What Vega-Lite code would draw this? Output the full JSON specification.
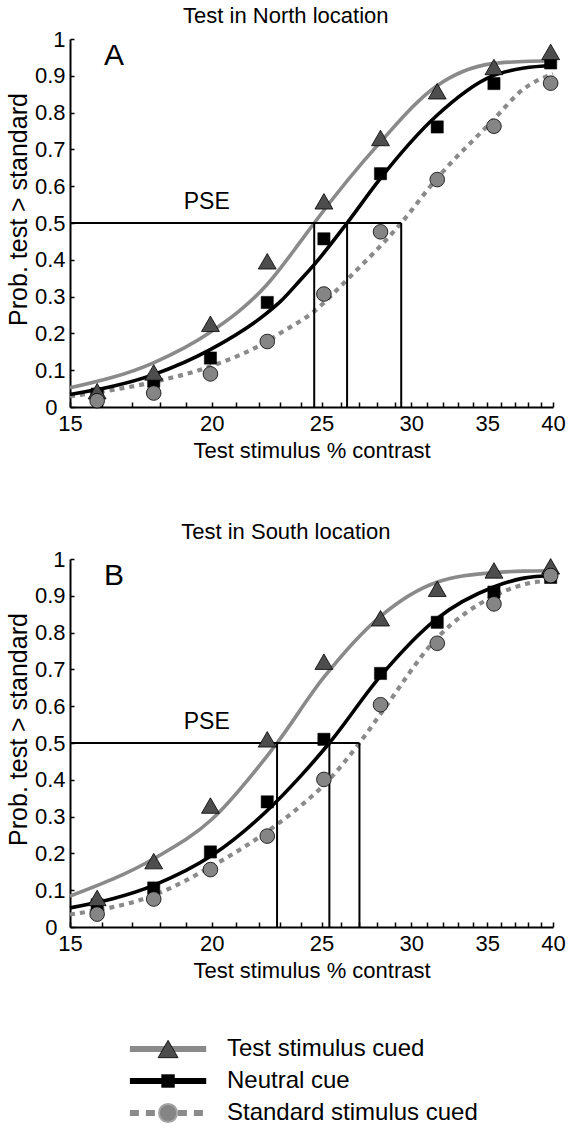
{
  "$schema": "https://vega.github.io/schema/vega-lite/v6.json",
  "background": "white",
  "padding": {"left": 6, "top": 5, "right": 0, "bottom": 0},
  "config": {
    "font": "Liberation Sans",
    "view": {"stroke": null},
    "axis": {"grid": false, "domainColor": "black", "domainWidth": 2, "tickColor": "black", "tickWidth": 1.5, "labelColor": "black", "labelFontSize": 22, "titleColor": "black", "titleFontSize": 22, "titleFontWeight": "normal", "labelFont": "Liberation Sans", "titleFont": "Liberation Sans", "labelOverlap": false},
    "axisY": {"labelOverlap": false},
    "title": {"fontSize": 22, "fontWeight": "normal", "color": "black", "font": "Liberation Sans", "anchor": "middle", "frame": "bounds"},
    "text": {"font": "Liberation Sans"}
  },
  "spacing": 60,
  "resolve": {"scale": {"x": "independent", "y": "independent"}},
  "datasets": {
    "curvesA": [
      {"series": "Test stimulus cued", "contrast": 15, "prob": 0.052},
      {"series": "Test stimulus cued", "contrast": 17.77, "prob": 0.12},
      {"series": "Test stimulus cued", "contrast": 19.94, "prob": 0.203},
      {"series": "Test stimulus cued", "contrast": 22.37, "prob": 0.332},
      {"series": "Test stimulus cued", "contrast": 23.96, "prob": 0.45},
      {"series": "Test stimulus cued", "contrast": 24.63, "prob": 0.5},
      {"series": "Test stimulus cued", "contrast": 28.12, "prob": 0.717},
      {"series": "Test stimulus cued", "contrast": 31.54, "prob": 0.871},
      {"series": "Test stimulus cued", "contrast": 35.33, "prob": 0.933},
      {"series": "Test stimulus cued", "contrast": 37.71, "prob": 0.939},
      {"series": "Test stimulus cued", "contrast": 40, "prob": 0.941},
      {"series": "Neutral cue", "contrast": 15, "prob": 0.034},
      {"series": "Neutral cue", "contrast": 17.77, "prob": 0.088},
      {"series": "Neutral cue", "contrast": 19.94, "prob": 0.156},
      {"series": "Neutral cue", "contrast": 22.37, "prob": 0.255},
      {"series": "Neutral cue", "contrast": 23.0, "prob": 0.287},
      {"series": "Neutral cue", "contrast": 23.96, "prob": 0.346},
      {"series": "Neutral cue", "contrast": 24.63, "prob": 0.387},
      {"series": "Neutral cue", "contrast": 26.33, "prob": 0.5},
      {"series": "Neutral cue", "contrast": 28.12, "prob": 0.618},
      {"series": "Neutral cue", "contrast": 31.54, "prob": 0.79},
      {"series": "Neutral cue", "contrast": 35.33, "prob": 0.899},
      {"series": "Neutral cue", "contrast": 37.71, "prob": 0.921},
      {"series": "Neutral cue", "contrast": 40, "prob": 0.928},
      {"series": "Standard stimulus cued", "contrast": 15, "prob": 0.029},
      {"series": "Standard stimulus cued", "contrast": 17.77, "prob": 0.068},
      {"series": "Standard stimulus cued", "contrast": 19.94, "prob": 0.11},
      {"series": "Standard stimulus cued", "contrast": 22.37, "prob": 0.178},
      {"series": "Standard stimulus cued", "contrast": 23.0, "prob": 0.201},
      {"series": "Standard stimulus cued", "contrast": 24.63, "prob": 0.26},
      {"series": "Standard stimulus cued", "contrast": 26.33, "prob": 0.346},
      {"series": "Standard stimulus cued", "contrast": 29.39, "prob": 0.5},
      {"series": "Standard stimulus cued", "contrast": 31.54, "prob": 0.618},
      {"series": "Standard stimulus cued", "contrast": 35.33, "prob": 0.776},
      {"series": "Standard stimulus cued", "contrast": 37.71, "prob": 0.865},
      {"series": "Standard stimulus cued", "contrast": 40, "prob": 0.905}
    ],
    "pointsA": [
      {"series": "Test stimulus cued", "contrast": 15.85, "prob": 0.043},
      {"series": "Test stimulus cued", "contrast": 17.78, "prob": 0.094},
      {"series": "Test stimulus cued", "contrast": 19.95, "prob": 0.226},
      {"series": "Test stimulus cued", "contrast": 22.39, "prob": 0.396},
      {"series": "Test stimulus cued", "contrast": 25.12, "prob": 0.559},
      {"series": "Test stimulus cued", "contrast": 28.18, "prob": 0.731},
      {"series": "Test stimulus cued", "contrast": 31.62, "prob": 0.858},
      {"series": "Test stimulus cued", "contrast": 35.48, "prob": 0.924},
      {"series": "Test stimulus cued", "contrast": 39.81, "prob": 0.965},
      {"series": "Neutral cue", "contrast": 15.85, "prob": 0.035},
      {"series": "Neutral cue", "contrast": 17.78, "prob": 0.07},
      {"series": "Neutral cue", "contrast": 19.95, "prob": 0.133},
      {"series": "Neutral cue", "contrast": 22.39, "prob": 0.284},
      {"series": "Neutral cue", "contrast": 25.12, "prob": 0.457},
      {"series": "Neutral cue", "contrast": 28.18, "prob": 0.634},
      {"series": "Neutral cue", "contrast": 31.62, "prob": 0.761},
      {"series": "Neutral cue", "contrast": 35.48, "prob": 0.879},
      {"series": "Neutral cue", "contrast": 39.81, "prob": 0.935},
      {"series": "Standard stimulus cued", "contrast": 15.85, "prob": 0.017},
      {"series": "Standard stimulus cued", "contrast": 17.78, "prob": 0.038},
      {"series": "Standard stimulus cued", "contrast": 19.95, "prob": 0.09},
      {"series": "Standard stimulus cued", "contrast": 22.39, "prob": 0.178},
      {"series": "Standard stimulus cued", "contrast": 25.12, "prob": 0.307},
      {"series": "Standard stimulus cued", "contrast": 28.18, "prob": 0.476},
      {"series": "Standard stimulus cued", "contrast": 31.62, "prob": 0.618},
      {"series": "Standard stimulus cued", "contrast": 35.48, "prob": 0.763},
      {"series": "Standard stimulus cued", "contrast": 39.81, "prob": 0.88}
    ],
    "pseA": [
      {"contrast": 15, "contrast2": 29.39, "prob": 0.5, "prob2": 0.5},
      {"contrast": 24.63, "contrast2": 24.63, "prob": 0, "prob2": 0.5},
      {"contrast": 26.33, "contrast2": 26.33, "prob": 0, "prob2": 0.5},
      {"contrast": 29.39, "contrast2": 29.39, "prob": 0, "prob2": 0.5}
    ],
    "curvesB": [
      {"series": "Test stimulus cued", "contrast": 15, "prob": 0.084},
      {"series": "Test stimulus cued", "contrast": 17.84, "prob": 0.188},
      {"series": "Test stimulus cued", "contrast": 20.0, "prob": 0.292},
      {"series": "Test stimulus cued", "contrast": 22.45, "prob": 0.47},
      {"series": "Test stimulus cued", "contrast": 22.84, "prob": 0.5},
      {"series": "Test stimulus cued", "contrast": 25.11, "prob": 0.678},
      {"series": "Test stimulus cued", "contrast": 28.2, "prob": 0.845},
      {"series": "Test stimulus cued", "contrast": 31.6, "prob": 0.937},
      {"series": "Test stimulus cued", "contrast": 35.46, "prob": 0.963},
      {"series": "Test stimulus cued", "contrast": 37.71, "prob": 0.967},
      {"series": "Test stimulus cued", "contrast": 40, "prob": 0.968},
      {"series": "Neutral cue", "contrast": 15, "prob": 0.052},
      {"series": "Neutral cue", "contrast": 17.84, "prob": 0.115},
      {"series": "Neutral cue", "contrast": 20.0, "prob": 0.194},
      {"series": "Neutral cue", "contrast": 22.45, "prob": 0.32},
      {"series": "Neutral cue", "contrast": 23.96, "prob": 0.41},
      {"series": "Neutral cue", "contrast": 25.4, "prob": 0.5},
      {"series": "Neutral cue", "contrast": 28.2, "prob": 0.683},
      {"series": "Neutral cue", "contrast": 31.6, "prob": 0.838},
      {"series": "Neutral cue", "contrast": 35.46, "prob": 0.924},
      {"series": "Neutral cue", "contrast": 37.71, "prob": 0.948},
      {"series": "Neutral cue", "contrast": 40, "prob": 0.955},
      {"series": "Standard stimulus cued", "contrast": 15, "prob": 0.034},
      {"series": "Standard stimulus cued", "contrast": 17.84, "prob": 0.088},
      {"series": "Standard stimulus cued", "contrast": 20.0, "prob": 0.165},
      {"series": "Standard stimulus cued", "contrast": 22.45, "prob": 0.262},
      {"series": "Standard stimulus cued", "contrast": 23.96, "prob": 0.329},
      {"series": "Standard stimulus cued", "contrast": 25.4, "prob": 0.401},
      {"series": "Standard stimulus cued", "contrast": 27.0, "prob": 0.5},
      {"series": "Standard stimulus cued", "contrast": 28.2, "prob": 0.58},
      {"series": "Standard stimulus cued", "contrast": 31.6, "prob": 0.785},
      {"series": "Standard stimulus cued", "contrast": 35.46, "prob": 0.899},
      {"series": "Standard stimulus cued", "contrast": 37.71, "prob": 0.931},
      {"series": "Standard stimulus cued", "contrast": 40, "prob": 0.942}
    ],
    "pointsB": [
      {"series": "Test stimulus cued", "contrast": 15.85, "prob": 0.079},
      {"series": "Test stimulus cued", "contrast": 17.78, "prob": 0.179},
      {"series": "Test stimulus cued", "contrast": 19.95, "prob": 0.33},
      {"series": "Test stimulus cued", "contrast": 22.39, "prob": 0.51},
      {"series": "Test stimulus cued", "contrast": 25.12, "prob": 0.721},
      {"series": "Test stimulus cued", "contrast": 28.18, "prob": 0.839},
      {"series": "Test stimulus cued", "contrast": 31.62, "prob": 0.919},
      {"series": "Test stimulus cued", "contrast": 35.48, "prob": 0.969},
      {"series": "Test stimulus cued", "contrast": 39.81, "prob": 0.98},
      {"series": "Neutral cue", "contrast": 15.85, "prob": 0.06},
      {"series": "Neutral cue", "contrast": 17.78, "prob": 0.106},
      {"series": "Neutral cue", "contrast": 19.95, "prob": 0.204},
      {"series": "Neutral cue", "contrast": 22.39, "prob": 0.34},
      {"series": "Neutral cue", "contrast": 25.12, "prob": 0.51},
      {"series": "Neutral cue", "contrast": 28.18, "prob": 0.689},
      {"series": "Neutral cue", "contrast": 31.62, "prob": 0.828},
      {"series": "Neutral cue", "contrast": 35.48, "prob": 0.91},
      {"series": "Neutral cue", "contrast": 39.81, "prob": 0.95},
      {"series": "Standard stimulus cued", "contrast": 15.85, "prob": 0.035},
      {"series": "Standard stimulus cued", "contrast": 17.78, "prob": 0.076},
      {"series": "Standard stimulus cued", "contrast": 19.95, "prob": 0.156},
      {"series": "Standard stimulus cued", "contrast": 22.39, "prob": 0.247},
      {"series": "Standard stimulus cued", "contrast": 25.12, "prob": 0.401},
      {"series": "Standard stimulus cued", "contrast": 28.18, "prob": 0.604},
      {"series": "Standard stimulus cued", "contrast": 31.62, "prob": 0.771},
      {"series": "Standard stimulus cued", "contrast": 35.48, "prob": 0.878},
      {"series": "Standard stimulus cued", "contrast": 39.81, "prob": 0.955}
    ],
    "pseB": [
      {"contrast": 15, "contrast2": 27.0, "prob": 0.5, "prob2": 0.5},
      {"contrast": 22.84, "contrast2": 22.84, "prob": 0, "prob2": 0.5},
      {"contrast": 25.4, "contrast2": 25.4, "prob": 0, "prob2": 0.5},
      {"contrast": 27.0, "contrast2": 27.0, "prob": 0, "prob2": 0.5}
    ],
    "legendRows": [
      {"series": "Test stimulus cued"},
      {"series": "Neutral cue"},
      {"series": "Standard stimulus cued"}
    ],
    "labelPSE": [{"label": "PSE"}],
    "labelA": [{"label": "A"}],
    "labelB": [{"label": "B"}]
  },
  "vconcat": [
    {
      "width": 483, "height": 368,
      "title": {"text": "Test in North location", "offset": 0},
      "layer": [
        {
          "data": {"name": "curvesA"},
          "transform": [{"filter": {"field": "series", "equal": "Standard stimulus cued"}}],
          "mark": {"type": "line", "interpolate": "monotone", "strokeWidth": 4.2, "color": "#8a8a8a", "strokeDash": [5, 5]},
          "encoding": {
            "x": {"field": "contrast", "type": "quantitative", "scale": {"type": "log", "domain": [15, 40], "nice": false},
                  "axis": {"title": "Test stimulus % contrast", "values": [15,16,17,18,19,20,21,22,23,24,25,26,27,28,29,30,31,32,33,34,35,36,37,38,39,40], "format": "d", "labelExpr": "datum.value % 5 === 0 ? datum.label : ''", "labelOverlap": false, "labelFlush": false, "labelBound": false, "tickSize": -5, "labelPadding": 11, "titlePadding": 6}},
            "y": {"field": "prob", "type": "quantitative", "scale": {"domain": [0, 1], "nice": false},
                  "axis": {"title": "Prob. test > standard", "titleFontSize": 25, "titleY": 170, "values": [0,0.1,0.2,0.3,0.4,0.5,0.6,0.7,0.8,0.9,1], "tickCount": 11, "format": ".1~f", "tickSize": -4, "labelPadding": {"condition": {"test": "datum.value === 0", "value": 17}, "value": 9}, "titlePadding": 3, "labelOverlap": false}}
          }
        },
        {
          "data": {"name": "curvesA"},
          "transform": [{"filter": {"field": "series", "equal": "Neutral cue"}}],
          "mark": {"type": "line", "interpolate": "monotone", "strokeWidth": 3.6, "color": "#000000"},
          "encoding": {"x": {"field": "contrast", "type": "quantitative"}, "y": {"field": "prob", "type": "quantitative"}}
        },
        {
          "data": {"name": "curvesA"},
          "transform": [{"filter": {"field": "series", "equal": "Test stimulus cued"}}],
          "mark": {"type": "line", "interpolate": "monotone", "strokeWidth": 3.6, "color": "#8a8a8a"},
          "encoding": {"x": {"field": "contrast", "type": "quantitative"}, "y": {"field": "prob", "type": "quantitative"}}
        },
        {
          "data": {"name": "pseA"},
          "mark": {"type": "rule", "strokeWidth": 2, "color": "black"},
          "encoding": {
            "x": {"field": "contrast", "type": "quantitative"}, "x2": {"field": "contrast2"},
            "y": {"field": "prob", "type": "quantitative"}, "y2": {"field": "prob2"}
          }
        },
        {
          "data": {"name": "pointsA"},
          "transform": [{"filter": {"field": "series", "equal": "Neutral cue"}}],
          "mark": {"type": "point", "shape": "square", "filled": true, "fill": "black", "stroke": "black", "strokeWidth": 0.5, "size": 150, "opacity": 1},
          "encoding": {"x": {"field": "contrast", "type": "quantitative"}, "y": {"field": "prob", "type": "quantitative"}}
        },
        {
          "data": {"name": "pointsA"},
          "transform": [{"filter": {"field": "series", "equal": "Test stimulus cued"}}],
          "mark": {"type": "point", "shape": "triangle-up", "filled": true, "fill": "#4d4d4d", "stroke": "black", "strokeWidth": 0.8, "size": 320, "opacity": 1},
          "encoding": {"x": {"field": "contrast", "type": "quantitative"}, "y": {"field": "prob", "type": "quantitative"}}
        },
        {
          "data": {"name": "pointsA"},
          "transform": [{"filter": {"field": "series", "equal": "Standard stimulus cued"}}],
          "mark": {"type": "point", "shape": "circle", "filled": true, "fill": "#858585", "stroke": "black", "strokeWidth": 0.8, "size": 215, "opacity": 1},
          "encoding": {"x": {"field": "contrast", "type": "quantitative"}, "y": {"field": "prob", "type": "quantitative"}}
        },
        {
          "data": {"name": "labelPSE"},
          "mark": {"type": "text", "fontSize": 23, "color": "black", "align": "center", "baseline": "middle"},
          "encoding": {"x": {"datum": 19.8, "type": "quantitative"}, "y": {"datum": 0.556, "type": "quantitative"}, "text": {"field": "label"}}
        },
        {
          "data": {"name": "labelA"},
          "mark": {"type": "text", "fontSize": 30, "color": "black", "align": "center", "baseline": "middle"},
          "encoding": {"x": {"datum": 16.4, "type": "quantitative"}, "y": {"datum": 0.955, "type": "quantitative"}, "text": {"field": "label"}}
        }
      ]
    },
    {
      "width": 483, "height": 368,
      "title": {"text": "Test in South location", "offset": 4},
      "resolve": {"scale": {"x": "independent", "y": "independent"}},
      "layer": [
        {
          "layer": [
            {
              "data": {"name": "curvesB"},
              "transform": [{"filter": {"field": "series", "equal": "Standard stimulus cued"}}],
              "mark": {"type": "line", "interpolate": "monotone", "strokeWidth": 4.2, "color": "#8a8a8a", "strokeDash": [5, 5]},
              "encoding": {
                "x": {"field": "contrast", "type": "quantitative", "scale": {"type": "log", "domain": [15, 40], "nice": false},
                      "axis": {"title": "Test stimulus % contrast", "values": [15,16,17,18,19,20,21,22,23,24,25,26,27,28,29,30,31,32,33,34,35,36,37,38,39,40], "format": "d", "labelExpr": "datum.value % 5 === 0 ? datum.label : ''", "labelOverlap": false, "labelFlush": false, "labelBound": false, "tickSize": -5, "labelPadding": 11, "titlePadding": 6}},
                "y": {"field": "prob", "type": "quantitative", "scale": {"domain": [0, 1], "nice": false},
                      "axis": {"title": "Prob. test > standard", "titleFontSize": 25, "titleY": 170, "values": [0,0.1,0.2,0.3,0.4,0.5,0.6,0.7,0.8,0.9,1], "tickCount": 11, "format": ".1~f", "tickSize": -4, "labelPadding": {"condition": {"test": "datum.value === 0", "value": 17}, "value": 9}, "titlePadding": 3, "labelOverlap": false}}
              }
            },
            {
              "data": {"name": "curvesB"},
              "transform": [{"filter": {"field": "series", "equal": "Neutral cue"}}],
              "mark": {"type": "line", "interpolate": "monotone", "strokeWidth": 3.6, "color": "#000000"},
              "encoding": {"x": {"field": "contrast", "type": "quantitative"}, "y": {"field": "prob", "type": "quantitative"}}
            },
            {
              "data": {"name": "curvesB"},
              "transform": [{"filter": {"field": "series", "equal": "Test stimulus cued"}}],
              "mark": {"type": "line", "interpolate": "monotone", "strokeWidth": 3.6, "color": "#8a8a8a"},
              "encoding": {"x": {"field": "contrast", "type": "quantitative"}, "y": {"field": "prob", "type": "quantitative"}}
            },
            {
              "data": {"name": "pseB"},
              "mark": {"type": "rule", "strokeWidth": 2, "color": "black"},
              "encoding": {
                "x": {"field": "contrast", "type": "quantitative"}, "x2": {"field": "contrast2"},
                "y": {"field": "prob", "type": "quantitative"}, "y2": {"field": "prob2"}
              }
            },
            {
              "data": {"name": "pointsB"},
              "transform": [{"filter": {"field": "series", "equal": "Neutral cue"}}],
              "mark": {"type": "point", "shape": "square", "filled": true, "fill": "black", "stroke": "black", "strokeWidth": 0.5, "size": 150, "opacity": 1},
              "encoding": {"x": {"field": "contrast", "type": "quantitative"}, "y": {"field": "prob", "type": "quantitative"}}
            },
            {
              "data": {"name": "pointsB"},
              "transform": [{"filter": {"field": "series", "equal": "Test stimulus cued"}}],
              "mark": {"type": "point", "shape": "triangle-up", "filled": true, "fill": "#4d4d4d", "stroke": "black", "strokeWidth": 0.8, "size": 320, "opacity": 1},
              "encoding": {"x": {"field": "contrast", "type": "quantitative"}, "y": {"field": "prob", "type": "quantitative"}}
            },
            {
              "data": {"name": "pointsB"},
              "transform": [{"filter": {"field": "series", "equal": "Standard stimulus cued"}}],
              "mark": {"type": "point", "shape": "circle", "filled": true, "fill": "#858585", "stroke": "black", "strokeWidth": 0.8, "size": 215, "opacity": 1},
              "encoding": {"x": {"field": "contrast", "type": "quantitative"}, "y": {"field": "prob", "type": "quantitative"}}
            },
            {
              "data": {"name": "labelPSE"},
              "mark": {"type": "text", "fontSize": 23, "color": "black", "align": "center", "baseline": "middle"},
              "encoding": {"x": {"datum": 19.8, "type": "quantitative"}, "y": {"datum": 0.556, "type": "quantitative"}, "text": {"field": "label"}}
            },
            {
              "data": {"name": "labelB"},
              "mark": {"type": "text", "fontSize": 30, "color": "black", "align": "center", "baseline": "middle"},
              "encoding": {"x": {"datum": 16.4, "type": "quantitative"}, "y": {"datum": 0.955, "type": "quantitative"}, "text": {"field": "label"}}
            }
          ]
        },
        {
          "data": {"name": "legendRows"},
          "encoding": {
            "y": {"field": "series", "type": "nominal", "scale": {"type": "point", "padding": 0, "domain": ["Test stimulus cued", "Neutral cue", "Standard stimulus cued"], "range": [490, 554]}, "axis": null}
          },
          "layer": [
            {
              "transform": [{"filter": {"field": "series", "equal": "Test stimulus cued"}}],
              "mark": {"type": "rule", "strokeWidth": 6, "color": "#8a8a8a"},
              "encoding": {"x": {"datum": 1.24, "type": "quantitative", "scale": {"domain": [0, 10]}, "axis": null}, "x2": {"datum": 2.82}}
            },
            {
              "transform": [{"filter": {"field": "series", "equal": "Neutral cue"}}],
              "mark": {"type": "rule", "strokeWidth": 6, "color": "#000000"},
              "encoding": {"x": {"datum": 1.24, "type": "quantitative"}, "x2": {"datum": 2.82}}
            },
            {
              "transform": [{"filter": {"field": "series", "equal": "Standard stimulus cued"}}],
              "mark": {"type": "rule", "strokeWidth": 6, "color": "#8a8a8a", "strokeDash": [9, 7]},
              "encoding": {"x": {"datum": 1.24, "type": "quantitative"}, "x2": {"datum": 2.82}}
            },
            {
              "transform": [{"filter": {"field": "series", "equal": "Test stimulus cued"}}],
              "mark": {"type": "point", "shape": "triangle-up", "filled": true, "fill": "#4d4d4d", "stroke": "black", "strokeWidth": 0.8, "size": 400, "opacity": 1},
              "encoding": {"x": {"datum": 2.03, "type": "quantitative"}}
            },
            {
              "transform": [{"filter": {"field": "series", "equal": "Neutral cue"}}],
              "mark": {"type": "point", "shape": "square", "filled": true, "fill": "black", "size": 180, "opacity": 1},
              "encoding": {"x": {"datum": 2.03, "type": "quantitative"}}
            },
            {
              "transform": [{"filter": {"field": "series", "equal": "Standard stimulus cued"}}],
              "mark": {"type": "point", "shape": "circle", "filled": true, "fill": "#858585", "stroke": "#a5a5a5", "strokeWidth": 2, "size": 330, "opacity": 1},
              "encoding": {"x": {"datum": 2.03, "type": "quantitative"}}
            },
            {
              "mark": {"type": "text", "fontSize": 24, "color": "black", "align": "left", "baseline": "middle"},
              "encoding": {"x": {"datum": 3.25, "type": "quantitative"}, "text": {"field": "series"}}
            }
          ]
        }
      ]
    }
  ]
}
